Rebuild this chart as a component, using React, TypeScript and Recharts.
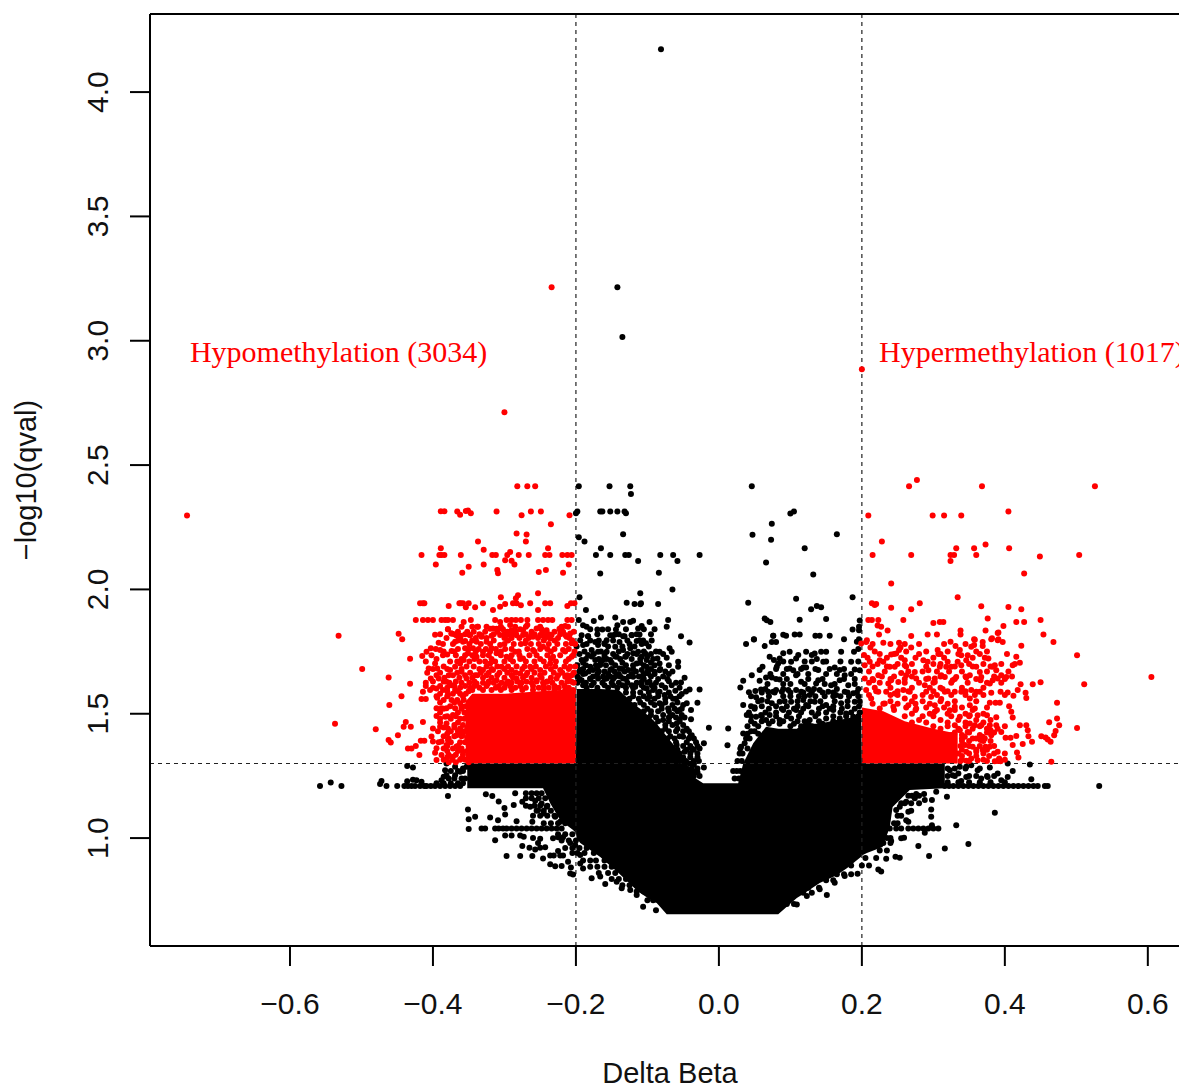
import { Area, ComposedChart, Label, ReferenceDot, ReferenceLine, Scatter, XAxis, YAxis } from 'recharts';

type Pair = [number, number];
type Row = [number, number[]];

const xTicks = [-0.6, -0.4, -0.2, 0, 0.2, 0.4, 0.6];
const yTicks = [1, 1.5, 2, 2.5, 3, 3.5, 4];
const xDomain = [-0.7958, 0.659];
const yDomain = [0.566, 4.314];
const deltaCutoff = 0.2;
const qvalCutoff = 1.3;

// solid parts of the cloud as [x, low, high]
const blackMass = [
	[-0.352, 1.2, 1.3], [-0.246, 1.2, 1.3], [-0.236, 1.14, 1.3], [-0.222, 1.072, 1.3], [-0.204, 1.032, 1.3], [-0.2, 1.02, 1.3],
	[-0.199, 1.0, 1.6], [-0.194, 0.98, 1.6], [-0.166, 0.924, 1.6], [-0.14, 0.859, 1.595], [-0.115, 0.79, 1.53], [-0.11, 0.779, 1.52],
	[-0.092, 0.745, 1.475], [-0.087, 0.739, 1.46], [-0.073, 0.694, 1.41], [-0.05, 0.694, 1.327], [-0.036, 0.694, 1.247], [-0.022, 0.694, 1.22],
	[0.027, 0.694, 1.22], [0.034, 0.694, 1.3], [0.048, 0.694, 1.381], [0.066, 0.694, 1.448], [0.083, 0.694, 1.44], [0.109, 0.759, 1.44],
	[0.118, 0.775, 1.46], [0.141, 0.819, 1.46], [0.164, 0.85, 1.475], [0.179, 0.879, 1.48], [0.199, 0.925, 1.5], [0.2, 0.93, 1.3],
	[0.207, 0.94, 1.3], [0.229, 0.964, 1.3], [0.239, 1.044, 1.3], [0.243, 1.125, 1.3], [0.267, 1.193, 1.3], [0.316, 1.2, 1.3],
];
const redMassLeft = [[-0.354, 1.3, 1.55], [-0.345, 1.3, 1.58], [-0.3, 1.3, 1.58], [-0.25, 1.3, 1.59], [-0.2, 1.3, 1.6]];
const redMassRight = [[0.2, 1.3, 1.525], [0.23, 1.3, 1.51], [0.26, 1.3, 1.47], [0.3, 1.3, 1.44], [0.334, 1.3, 1.42]];

// quantised q-value rows
const redRow242 = [-0.282, -0.268, -0.257, 0.266, 0.368, 0.526];
const redRow214 = [-0.416, -0.391, -0.388, -0.384, -0.361, -0.317, -0.312, -0.296, -0.28, -0.266, -0.243, -0.237, -0.219, -0.212, -0.206, 0.215, 0.269, 0.324, 0.329, 0.36, 0.504];
const redRow194 = [-0.418, -0.414, -0.412, -0.363, -0.361, -0.358, -0.35, -0.33, -0.288, -0.283, -0.264, -0.243, -0.236, -0.207, -0.202, 0.281];
const redRow188 = [-0.424, -0.414, -0.407, -0.4, -0.388, -0.383, -0.379, -0.372, -0.347, -0.313, -0.297, -0.29, -0.284, -0.277, -0.268, -0.253, -0.246, -0.239, -0.233, -0.212, -0.206, 0.209, 0.214, 0.223, 0.258, 0.45];
const blackRow242 = [-0.196, -0.153, -0.124, 0.046];
const blackRow214 = [-0.172, -0.152, -0.131, -0.126, -0.082, -0.064, -0.027];
const blackRow120 = [-0.558, -0.528, -0.465, -0.45, -0.44, -0.435, -0.43, -0.425, -0.418, -0.412, -0.409, -0.403, -0.397, -0.39, -0.383, -0.376, -0.369, -0.362, 0.316, 0.322, 0.328, 0.335, 0.342, 0.349, 0.356, 0.363, 0.37, 0.377, 0.384, 0.391, 0.398, 0.405, 0.412, 0.419, 0.426, 0.433, 0.44, 0.446, 0.456, 0.46, 0.532];
const blackRow104 = [-0.332, -0.327, -0.313, -0.308, -0.302, -0.297, -0.29, -0.283, -0.276, -0.269, -0.262, -0.255, -0.248, -0.241, -0.234, -0.227, -0.22, 0.239, 0.248, 0.255, 0.265, 0.272, 0.279, 0.286, 0.293, 0.3, 0.307];

// busy areas, estimated band by band
const redBandsLeft: Row[] = [
	[1.85, [-0.36, -0.345, -0.325, -0.305, -0.285, -0.27, -0.25, -0.22]],
	[1.83, [-0.365, -0.352, -0.343, -0.327, -0.31, -0.296, -0.284, -0.262, -0.247, -0.23, -0.218, -0.203]],
	[1.82, [-0.39, -0.37, -0.355, -0.335, -0.315, -0.3, -0.27, -0.258, -0.238, -0.222]],
	[1.805, [-0.381, -0.362, -0.34, -0.325, -0.3, -0.29, -0.279, -0.266, -0.253, -0.243, -0.225, -0.209]],
	[1.795, [-0.365, -0.345, -0.315, -0.295, -0.27, -0.245, -0.23, -0.205]],
	[1.78, [-0.386, -0.372, -0.349, -0.333, -0.32, -0.3, -0.287, -0.277, -0.263, -0.252, -0.238, -0.226, -0.214, -0.201]],
	[1.76, [-0.396, -0.365, -0.35, -0.336, -0.326, -0.312, -0.299, -0.29, -0.268, -0.25, -0.24, -0.23, -0.21]],
	[1.75, [-0.385, -0.37, -0.34, -0.32, -0.305, -0.28, -0.258, -0.235, -0.215, -0.202]],
	[1.735, [-0.402, -0.386, -0.368, -0.355, -0.345, -0.33, -0.322, -0.305, -0.29, -0.279, -0.265, -0.255, -0.24, -0.222, -0.204]],
	[1.72, [-0.395, -0.36, -0.342, -0.318, -0.292, -0.278, -0.25, -0.235, -0.21]],
	[1.71, [-0.41, -0.376, -0.366, -0.349, -0.335, -0.327, -0.313, -0.3, -0.288, -0.27, -0.258, -0.245, -0.228, -0.214]],
	[1.69, [-0.385, -0.353, -0.343, -0.325, -0.31, -0.295, -0.283, -0.272, -0.256, -0.242, -0.229, -0.216, -0.201]],
	[1.68, [-0.4, -0.38, -0.36, -0.335, -0.318, -0.3, -0.275, -0.262, -0.235, -0.21]],
	[1.665, [-0.408, -0.39, -0.366, -0.348, -0.333, -0.322, -0.307, -0.296, -0.284, -0.268, -0.258, -0.244, -0.231, -0.219, -0.203]],
	[1.655, [-0.395, -0.378, -0.355, -0.338, -0.325, -0.31, -0.29, -0.27, -0.25, -0.225, -0.212]],
	[1.645, [-0.384, -0.363, -0.345, -0.33, -0.318, -0.3, -0.288, -0.274, -0.262, -0.248, -0.235, -0.21]],
	[1.63, [-0.4, -0.385, -0.368, -0.342, -0.322, -0.295, -0.282, -0.255, -0.24, -0.212]],
	[1.625, [-0.41, -0.377, -0.36, -0.349, -0.33, -0.315, -0.304, -0.29, -0.276, -0.262, -0.246, -0.233, -0.22, -0.203]],
	[1.612, [-0.41, -0.39, -0.37, -0.355, -0.342, -0.325, -0.308, -0.292, -0.278, -0.26, -0.245, -0.23, -0.216]],
	[1.605, [-0.4, -0.38, -0.362, -0.348, -0.335, -0.312, -0.3, -0.285, -0.27, -0.252, -0.238, -0.224, -0.21]],
	[1.595, [-0.345, -0.33, -0.318, -0.305, -0.29, -0.275, -0.26, -0.245, -0.23, -0.215, -0.204]],
	[1.59, [-0.38, -0.365, -0.35]],
	[1.58, [-0.39, -0.372, -0.362, -0.354]],
	[1.57, [-0.395, -0.38, -0.358]],
	[1.555, [-0.385, -0.366, -0.357]],
	[1.545, [-0.39, -0.37, -0.35]],
	[1.53, [-0.376, -0.36, -0.354]],
	[1.52, [-0.385, -0.36]],
	[1.505, [-0.39, -0.365, -0.356]],
	[1.49, [-0.38, -0.368, -0.352]],
	[1.48, [-0.39, -0.375, -0.362, -0.356]],
	[1.465, [-0.39, -0.365, -0.35]],
	[1.455, [-0.37, -0.358]],
	[1.445, [-0.385, -0.37, -0.352]],
	[1.43, [-0.393, -0.375, -0.365, -0.356]],
	[1.42, [-0.38, -0.36]],
	[1.41, [-0.385, -0.37, -0.36]],
	[1.4, [-0.378, -0.352]],
	[1.385, [-0.392, -0.375, -0.362, -0.355]],
	[1.37, [-0.38, -0.365, -0.35]],
	[1.36, [-0.385, -0.372, -0.36]],
	[1.35, [-0.38, -0.365, -0.352]],
	[1.335, [-0.378, -0.368, -0.358]],
	[1.325, [-0.38, -0.35]],
	[1.315, [-0.385, -0.373, -0.362, -0.355]],
	[1.305, [-0.378, -0.368, -0.35]],
];
const redBandsRight: Row[] = [
	[1.78, [0.215, 0.24, 0.26, 0.28, 0.315, 0.345]],
	[1.75, [0.218, 0.262, 0.29, 0.32, 0.36, 0.375]],
	[1.74, [0.225, 0.245, 0.28, 0.31, 0.335, 0.365]],
	[1.725, [0.208, 0.235, 0.255, 0.275, 0.3, 0.315, 0.355, 0.372]],
	[1.7, [0.222, 0.25, 0.27, 0.3, 0.31, 0.35, 0.37, 0.395]],
	[1.69, [0.215, 0.235, 0.262, 0.29, 0.33, 0.355, 0.38]],
	[1.67, [0.21, 0.232, 0.265, 0.285, 0.305, 0.322, 0.34, 0.375, 0.405]],
	[1.65, [0.228, 0.245, 0.27, 0.31, 0.345, 0.385, 0.41]],
	[1.64, [0.215, 0.24, 0.26, 0.29, 0.33, 0.36, 0.4]],
	[1.625, [0.21, 0.225, 0.26, 0.28, 0.3, 0.325, 0.348, 0.375, 0.395]],
	[1.605, [0.218, 0.24, 0.27, 0.295, 0.31, 0.34, 0.37]],
	[1.59, [0.22, 0.25, 0.265, 0.3, 0.32, 0.345]],
	[1.575, [0.21, 0.24, 0.25, 0.285, 0.305, 0.325, 0.345, 0.37, 0.4]],
	[1.55, [0.24, 0.27, 0.285, 0.31, 0.33, 0.36]],
	[1.54, [0.215, 0.23, 0.25, 0.275, 0.295, 0.32]],
	[1.525, [0.262, 0.29, 0.315, 0.34, 0.375]],
	[1.515, [0.245, 0.275, 0.305, 0.33, 0.355]],
	[1.5, [0.27, 0.295, 0.32, 0.345, 0.37]],
	[1.49, [0.26, 0.285, 0.3, 0.325, 0.35]],
	[1.475, [0.28, 0.31, 0.335, 0.36, 0.38]],
	[1.465, [0.27, 0.29, 0.32, 0.345, 0.37]],
	[1.45, [0.3, 0.32, 0.345, 0.365]],
	[1.44, [0.31, 0.335, 0.355, 0.375]],
	[1.425, [0.33, 0.35, 0.375, 0.385]],
	[1.415, [0.325, 0.34, 0.365]],
	[1.4, [0.34, 0.36, 0.372]],
	[1.39, [0.34, 0.35, 0.37, 0.38]],
	[1.37, [0.338, 0.35, 0.365, 0.385]],
	[1.355, [0.34, 0.36, 0.375]],
	[1.34, [0.335, 0.35, 0.37, 0.385, 0.4]],
	[1.33, [0.34, 0.36, 0.378]],
	[1.315, [0.34, 0.37, 0.4]],
	[1.31, [0.338, 0.35, 0.375, 0.39]],
];
const blackBandsLeft: Row[] = [
	[1.84, [-0.18, -0.155, -0.13, -0.105, -0.09]],
	[1.82, [-0.17, -0.14, -0.115, -0.095]],
	[1.795, [-0.18, -0.168, -0.148, -0.128, -0.106, -0.094]],
	[1.78, [-0.185, -0.16, -0.125, -0.108]],
	[1.77, [-0.199, -0.155, -0.135, -0.118, -0.098]],
	[1.75, [-0.188, -0.165, -0.14, -0.105, -0.088]],
	[1.74, [-0.195, -0.175, -0.16, -0.148, -0.128, -0.115, -0.095, -0.078]],
	[1.73, [-0.178, -0.16, -0.145, -0.13, -0.1]],
	[1.72, [-0.186, -0.168, -0.157, -0.138, -0.122, -0.11, -0.092]],
	[1.705, [-0.19, -0.165, -0.15, -0.135, -0.11, -0.095]],
	[1.695, [-0.198, -0.186, -0.172, -0.158, -0.145, -0.13, -0.12, -0.105, -0.09, -0.07]],
	[1.68, [-0.19, -0.17, -0.15, -0.135, -0.12, -0.095, -0.082]],
	[1.67, [-0.195, -0.182, -0.168, -0.16, -0.146, -0.132, -0.116, -0.1, -0.075, -0.065]],
	[1.66, [-0.19, -0.17, -0.155, -0.14, -0.122, -0.105, -0.09, -0.07]],
	[1.65, [-0.198, -0.176, -0.162, -0.152, -0.138, -0.126, -0.112, -0.095, -0.078]],
	[1.64, [-0.195, -0.18, -0.16, -0.148, -0.13, -0.105, -0.085, -0.072]],
	[1.625, [-0.198, -0.186, -0.175, -0.163, -0.15, -0.14, -0.128, -0.115, -0.1, -0.088, -0.06]],
	[1.615, [-0.19, -0.178, -0.16, -0.148, -0.135, -0.122, -0.108, -0.094, -0.08, -0.066]],
	[1.605, [-0.185, -0.17, -0.155, -0.142, -0.13, -0.12, -0.105, -0.09, -0.075, -0.055]],
	[1.585, [-0.13, -0.12, -0.11, -0.098, -0.085, -0.07]],
	[1.57, [-0.12, -0.105, -0.085, -0.068, -0.055]],
	[1.56, [-0.125, -0.112, -0.1, -0.09, -0.075, -0.06]],
	[1.545, [-0.11, -0.095, -0.075, -0.058]],
	[1.535, [-0.118, -0.105, -0.09, -0.08, -0.065, -0.05]],
	[1.52, [-0.1, -0.08, -0.062, -0.052]],
	[1.51, [-0.105, -0.095, -0.085, -0.07, -0.058]],
	[1.495, [-0.095, -0.078, -0.065, -0.052]],
	[1.485, [-0.098, -0.088, -0.07, -0.06, -0.048]],
	[1.47, [-0.085, -0.07, -0.055]],
	[1.455, [-0.09, -0.075, -0.065, -0.05]],
	[1.44, [-0.075, -0.058, -0.045]],
	[1.43, [-0.08, -0.07, -0.06, -0.05, -0.042]],
	[1.41, [-0.068, -0.055, -0.04]],
	[1.4, [-0.072, -0.062, -0.042, -0.035]],
	[1.385, [-0.06, -0.045, -0.032]],
	[1.37, [-0.068, -0.05, -0.04, -0.03]],
	[1.355, [-0.058, -0.045, -0.035]],
	[1.34, [-0.062, -0.055, -0.04, -0.03]],
	[1.325, [-0.05, -0.04, -0.03]],
	[1.31, [-0.055, -0.046, -0.035, -0.028]],
	[1.295, [-0.048, -0.035]],
	[1.28, [-0.045, -0.038, -0.03]],
	[1.265, [-0.04, -0.03]],
	[1.25, [-0.035, -0.027]],
];
const blackBandsRight: Row[] = [
	[1.79, [0.193]],
	[1.76, [0.195]],
	[1.71, [0.09, 0.12, 0.13, 0.15, 0.17, 0.195]],
	[1.68, [0.08, 0.095, 0.115, 0.135, 0.155, 0.175]],
	[1.66, [0.072, 0.09, 0.11, 0.125, 0.15, 0.165, 0.185]],
	[1.64, [0.08, 0.095, 0.125, 0.145, 0.175, 0.19]],
	[1.62, [0.068, 0.09, 0.1, 0.12, 0.148, 0.162, 0.19]],
	[1.6, [0.065, 0.09, 0.125, 0.133, 0.165, 0.195]],
	[1.585, [0.06, 0.078, 0.1, 0.118, 0.13, 0.145, 0.16, 0.18, 0.193]],
	[1.57, [0.045, 0.07, 0.09, 0.1, 0.112, 0.12, 0.135, 0.148, 0.16, 0.17, 0.182, 0.195]],
	[1.55, [0.055, 0.068, 0.092, 0.11, 0.128, 0.142, 0.162, 0.18, 0.197]],
	[1.53, [0.045, 0.06, 0.08, 0.095, 0.11, 0.125, 0.145, 0.16, 0.18, 0.196]],
	[1.52, [0.05, 0.07, 0.088, 0.105, 0.118, 0.14, 0.155, 0.172, 0.19]],
	[1.505, [0.042, 0.065, 0.08, 0.098, 0.115, 0.13, 0.15, 0.17, 0.185, 0.197]],
	[1.49, [0.045, 0.06, 0.08, 0.095, 0.112, 0.135, 0.16, 0.178, 0.195]],
	[1.47, [0.045, 0.06, 0.075, 0.09, 0.11, 0.12, 0.14, 0.16, 0.18, 0.195]],
	[1.46, [0.05, 0.07, 0.085, 0.105, 0.125, 0.145, 0.165, 0.185]],
	[1.45, [0.04, 0.055, 0.1, 0.115, 0.13, 0.15, 0.172, 0.19]],
	[1.43, [0.045, 0.05]],
	[1.42, [0.04, 0.055]],
	[1.4, [0.038, 0.043]],
	[1.36, [0.03, 0.04]],
	[1.34, [0.029, 0.033]],
	[1.31, [0.026, 0.032]],
	[1.27, [0.02, 0.025, 0.03]],
	[1.24, [0.022, 0.028]],
];
const blackFringe: Row[] = [
	[1.28, [0.32, 0.33, 0.345, 0.365]],
	[1.27, [-0.375, -0.365, -0.358]],
	[1.25, [0.32, 0.33, 0.35, 0.36, 0.375, 0.385]],
	[1.24, [-0.378, -0.37, -0.36, -0.355]],
	[1.225, [0.32, 0.335, 0.35, 0.365, 0.38, 0.4]],
	[1.22, [-0.395, -0.385, -0.375, -0.365, -0.358]],
	[1.18, [-0.27, -0.262, -0.255, -0.248]],
	[1.17, [0.265, 0.27, 0.28]],
	[1.16, [-0.27, -0.262, -0.252, -0.243]],
	[1.14, [0.255, 0.26, 0.28]],
	[1.13, [-0.27, -0.258, -0.25, -0.24]],
	[1.11, [-0.255, -0.245, -0.235]],
	[1.09, [-0.26, -0.25, -0.24, -0.23, 0.25, 0.255]],
	[1.06, [-0.245, -0.235, -0.225, -0.215, 0.245, 0.25]],
	[1.015, [-0.225, -0.215, -0.205]],
	[1.0, [0.24, 0.235]],
	[0.99, [-0.22, -0.21, -0.2]],
	[0.98, [0.23, 0.24]],
	[0.96, [-0.215, -0.205, -0.195, -0.185]],
	[0.95, [0.225, 0.235]],
	[0.94, [-0.205, -0.198, -0.188, -0.175]],
	[0.92, [0.205, 0.22]],
	[0.91, [-0.19, -0.18, -0.172, -0.16]],
	[0.89, [0.185, 0.2, 0.21]],
	[0.885, [-0.18, -0.17, -0.16, -0.15]],
	[0.86, [-0.168, -0.155, -0.145]],
	[0.855, [0.165, 0.175, 0.185]],
	[0.835, [-0.15, -0.14, -0.13]],
	[0.83, [0.15, 0.16]],
	[0.81, [-0.135, -0.125, -0.115]],
	[0.8, [0.125, 0.14]],
	[0.785, [-0.115, -0.105]],
	[0.78, [0.118, 0.13]],
	[0.75, [-0.1, -0.092]],
	[0.735, [0.095, 0.105]],
];

const redPairsLeft: Pair[] = [
	[-0.744, 2.297], [-0.234, 3.215], [-0.3, 2.712],
	[-0.389, 2.314], [-0.384, 2.314], [-0.366, 2.313], [-0.362, 2.3], [-0.354, 2.315], [-0.351, 2.317], [-0.347, 2.306], [-0.311, 2.313], [-0.276, 2.298], [-0.263, 2.313], [-0.249, 2.313], [-0.209, 2.298], [-0.235, 2.262],
	[-0.283, 2.225], [-0.269, 2.221], [-0.27, 2.193], [-0.337, 2.193], [-0.389, 2.166], [-0.329, 2.16], [-0.239, 2.166], [-0.292, 2.15], [-0.299, 2.117], [-0.29, 2.115], [-0.286, 2.1], [-0.396, 2.1], [-0.21, 2.1], [-0.35, 2.091], [-0.329, 2.1], [-0.359, 2.067], [-0.31, 2.078], [-0.309, 2.065], [-0.252, 2.07], [-0.242, 2.078], [-0.218, 2.067],
	[-0.253, 1.985], [-0.281, 1.977], [-0.284, 1.964], [-0.305, 1.968], [-0.378, 1.933], [-0.354, 1.928], [-0.341, 1.928], [-0.316, 1.917], [-0.306, 1.93], [-0.299, 1.941], [-0.277, 1.936], [-0.253, 1.917], [-0.212, 1.933],
	[-0.357, 1.869], [-0.337, 1.85], [-0.379, 1.84], [-0.306, 1.869], [-0.292, 1.857], [-0.268, 1.857], [-0.248, 1.84], [-0.223, 1.842], [-0.215, 1.853], [-0.32, 1.842], [-0.311, 1.842], [-0.302, 1.84], [-0.278, 1.84],
	[-0.532, 1.814], [-0.448, 1.822], [-0.443, 1.8], [-0.397, 1.818], [-0.374, 1.823], [-0.368, 1.818], [-0.361, 1.814], [-0.349, 1.818], [-0.332, 1.814], [-0.318, 1.814], [-0.306, 1.817], [-0.297, 1.817], [-0.29, 1.817], [-0.285, 1.823], [-0.274, 1.817], [-0.262, 1.817], [-0.25, 1.817], [-0.241, 1.817], [-0.234, 1.817], [-0.215, 1.817], [-0.208, 1.823],
	[-0.499, 1.68], [-0.462, 1.646], [-0.432, 1.721], [-0.432, 1.621], [-0.444, 1.57], [-0.461, 1.535], [-0.537, 1.46], [-0.48, 1.438], [-0.438, 1.467], [-0.441, 1.448], [-0.431, 1.448], [-0.449, 1.414], [-0.462, 1.394], [-0.459, 1.384], [-0.414, 1.467], [-0.417, 1.391], [-0.412, 1.391], [-0.424, 1.37], [-0.435, 1.36], [-0.43, 1.36], [-0.419, 1.334],
	[-0.415, 1.732], [-0.409, 1.749], [-0.403, 1.763], [-0.392, 1.786], [-0.39, 1.756], [-0.38, 1.738], [-0.374, 1.752], [-0.379, 1.84], [-0.374, 1.823], [-0.367, 1.816], [-0.369, 1.79], [-0.355, 1.793], [-0.348, 1.816], [-0.338, 1.85], [-0.332, 1.81], [-0.316, 1.843], [-0.304, 1.843], [-0.29, 1.836], [-0.274, 1.836], [-0.255, 1.843], [-0.241, 1.836], [-0.222, 1.836], [-0.213, 1.81], [-0.206, 1.783], [-0.211, 1.85],
	[-0.406, 1.682], [-0.397, 1.702], [-0.394, 1.682], [-0.403, 1.642], [-0.392, 1.642], [-0.381, 1.629], [-0.374, 1.615], [-0.369, 1.595], [-0.414, 1.588], [-0.404, 1.595], [-0.395, 1.602], [-0.386, 1.595], [-0.379, 1.575], [-0.374, 1.555], [-0.416, 1.559], [-0.41, 1.559], [-0.394, 1.564], [-0.395, 1.522], [-0.388, 1.522], [-0.381, 1.522], [-0.395, 1.491], [-0.383, 1.488], [-0.381, 1.461], [-0.369, 1.522], [-0.372, 1.495], [-0.362, 1.542], [-0.379, 1.441], [-0.39, 1.448], [-0.4, 1.441], [-0.402, 1.408], [-0.4, 1.388], [-0.388, 1.388], [-0.379, 1.394], [-0.381, 1.374], [-0.395, 1.361], [-0.397, 1.343], [-0.388, 1.334], [-0.395, 1.314], [-0.367, 1.414], [-0.362, 1.441], [-0.358, 1.414], [-0.367, 1.368], [-0.358, 1.347], [-0.36, 1.32], [-0.372, 1.327],
	[-0.376, 1.676], [-0.369, 1.689], [-0.372, 1.655], [-0.362, 1.702], [-0.357, 1.716], [-0.351, 1.743], [-0.344, 1.763], [-0.339, 1.729], [-0.36, 1.669], [-0.353, 1.642], [-0.341, 1.655], [-0.33, 1.676], [-0.32, 1.702], [-0.33, 1.749], [-0.318, 1.763], [-0.306, 1.776], [-0.295, 1.796], [-0.283, 1.816], [-0.271, 1.783], [-0.26, 1.81], [-0.248, 1.816], [-0.236, 1.803], [-0.358, 1.79], [-0.355, 1.763], [-0.339, 1.79], [-0.325, 1.79], [-0.311, 1.743], [-0.297, 1.729], [-0.285, 1.749], [-0.274, 1.722], [-0.26, 1.756], [-0.246, 1.769], [-0.232, 1.729], [-0.218, 1.756], [-0.206, 1.729],
	[-0.316, 1.676], [-0.304, 1.689], [-0.29, 1.676], [-0.278, 1.662], [-0.264, 1.689], [-0.25, 1.676], [-0.236, 1.702], [-0.222, 1.676], [-0.208, 1.689], [-0.339, 1.622], [-0.323, 1.622], [-0.311, 1.635], [-0.297, 1.622], [-0.283, 1.642], [-0.269, 1.629], [-0.255, 1.635], [-0.241, 1.629], [-0.227, 1.642], [-0.215, 1.649], [-0.206, 1.655], [-0.206, 1.629],
];

const redPairsRight: Pair[] = [
	[0.2, 2.885], [0.277, 2.44], [0.209, 2.297], [0.299, 2.297], [0.315, 2.297], [0.339, 2.297], [0.405, 2.313], [0.228, 2.193], [0.332, 2.166], [0.357, 2.166], [0.373, 2.181], [0.406, 2.166], [0.449, 2.132], [0.324, 2.114], [0.427, 2.064], [0.241, 2.024], [0.334, 1.968],
	[0.214, 1.944], [0.218, 1.937], [0.22, 1.941], [0.241, 1.926], [0.269, 1.92], [0.367, 1.932], [0.405, 1.929], [0.423, 1.92], [0.3, 1.865], [0.309, 1.869], [0.314, 1.869], [0.376, 1.883], [0.398, 1.853], [0.416, 1.869], [0.427, 1.869], [0.222, 1.855], [0.227, 1.85], [0.236, 1.835], [0.224, 1.819], [0.269, 1.813], [0.292, 1.819], [0.305, 1.819], [0.338, 1.835], [0.338, 1.819], [0.373, 1.835], [0.391, 1.827], [0.454, 1.819], [0.382, 1.804], [0.391, 1.8], [0.357, 1.8], [0.324, 1.79], [0.207, 1.796],
	[0.605, 1.648], [0.501, 1.735], [0.511, 1.619], [0.45, 1.627], [0.439, 1.619], [0.473, 1.544], [0.473, 1.481], [0.462, 1.466], [0.476, 1.454], [0.501, 1.443], [0.471, 1.431], [0.469, 1.414], [0.451, 1.41], [0.457, 1.404], [0.46, 1.396], [0.464, 1.387], [0.468, 1.789], [0.423, 1.773], [0.416, 1.729], [0.403, 1.74], [0.421, 1.705], [0.411, 1.695], [0.414, 1.7], [0.422, 1.619], [0.418, 1.595], [0.412, 1.572], [0.429, 1.584], [0.43, 1.563], [0.404, 1.585], [0.394, 1.588], [0.381, 1.584], [0.379, 1.544], [0.387, 1.544], [0.393, 1.544], [0.406, 1.53], [0.409, 1.508], [0.411, 1.485], [0.388, 1.486], [0.375, 1.494],
	[0.421, 1.454], [0.43, 1.454], [0.432, 1.434], [0.433, 1.41], [0.438, 1.387], [0.416, 1.411], [0.401, 1.403], [0.408, 1.403], [0.411, 1.374], [0.425, 1.378], [0.417, 1.344], [0.419, 1.324], [0.39, 1.347], [0.392, 1.32], [0.386, 1.309], [0.394, 1.309], [0.465, 1.307], [0.379, 1.454], [0.38, 1.434], [0.381, 1.414], [0.388, 1.454], [0.39, 1.44], [0.395, 1.427], [0.4, 1.45], [0.373, 1.367], [0.379, 1.367], [0.369, 1.354], [0.369, 1.407], [0.366, 1.394],
	[0.383, 1.689], [0.388, 1.675], [0.386, 1.695], [0.377, 1.722], [0.395, 1.655], [0.402, 1.648], [0.39, 1.642], [0.383, 1.635], [0.379, 1.622], [0.36, 1.689], [0.365, 1.668], [0.367, 1.648], [0.366, 1.635], [0.351, 1.655], [0.346, 1.646], [0.358, 1.798], [0.353, 1.769], [0.357, 1.776], [0.369, 1.789], [0.369, 1.772], [0.381, 1.8], [0.39, 1.825], [0.39, 1.796], [0.397, 1.789],
	[0.206, 1.789], [0.199, 1.782], [0.212, 1.766], [0.23, 1.786], [0.252, 1.786], [0.254, 1.766], [0.269, 1.766], [0.248, 1.742], [0.241, 1.738], [0.252, 1.756], [0.203, 1.736], [0.211, 1.709], [0.204, 1.695], [0.225, 1.715], [0.23, 1.709], [0.239, 1.689], [0.246, 1.689], [0.26, 1.715], [0.26, 1.695], [0.286, 1.715], [0.292, 1.709], [0.306, 1.756], [0.307, 1.74], [0.331, 1.772], [0.337, 1.756], [0.339, 1.735], [0.348, 1.735], [0.346, 1.715], [0.334, 1.709], [0.339, 1.695], [0.32, 1.709], [0.318, 1.689], [0.325, 1.689], [0.309, 1.689],
	[0.255, 1.664], [0.262, 1.655], [0.274, 1.668], [0.276, 1.642], [0.293, 1.675], [0.293, 1.642], [0.302, 1.642], [0.302, 1.628], [0.311, 1.655], [0.316, 1.648], [0.327, 1.635], [0.332, 1.648], [0.223, 1.655], [0.216, 1.635], [0.204, 1.642], [0.241, 1.635], [0.237, 1.622], [0.251, 1.628], [0.288, 1.615], [0.313, 1.6], [0.316, 1.588], [0.33, 1.588], [0.339, 1.588], [0.353, 1.595], [0.36, 1.588], [0.365, 1.588], [0.351, 1.561], [0.358, 1.575],
	[0.206, 1.595], [0.223, 1.588], [0.234, 1.588], [0.246, 1.581], [0.258, 1.595], [0.267, 1.588], [0.29, 1.588], [0.213, 1.561], [0.232, 1.541], [0.26, 1.561], [0.274, 1.568], [0.297, 1.568], [0.311, 1.559], [0.265, 1.534], [0.225, 1.521], [0.244, 1.528], [0.276, 1.521], [0.302, 1.534], [0.33, 1.528], [0.351, 1.534], [0.358, 1.521], [0.302, 1.508], [0.323, 1.514], [0.337, 1.488], [0.351, 1.494], [0.362, 1.494],
	[0.351, 1.461], [0.358, 1.454], [0.367, 1.454], [0.33, 1.454], [0.337, 1.434], [0.348, 1.427], [0.344, 1.407], [0.355, 1.4], [0.344, 1.374], [0.355, 1.367], [0.346, 1.347], [0.36, 1.347], [0.353, 1.32], [0.346, 1.311], [0.362, 1.313],
];

const blackPairsTop: Pair[] = [
	[-0.081, 4.172], [-0.142, 3.215], [-0.135, 3.015],
	[-0.123, 2.384], [-0.166, 2.313], [-0.163, 2.313], [-0.152, 2.313], [-0.142, 2.313], [-0.132, 2.313], [-0.13, 2.306], [-0.2, 2.306], [-0.198, 2.313], [0.105, 2.313], [0.1, 2.305], [0.074, 2.264], [-0.134, 2.222], [0.047, 2.22], [0.073, 2.2], [0.165, 2.222], [-0.196, 2.21], [-0.188, 2.193], [-0.165, 2.166], [0.12, 2.166],
	[-0.113, 2.114], [-0.058, 2.114], [0.066, 2.108], [-0.166, 2.064], [-0.084, 2.067], [0.132, 2.06], [-0.065, 2.0], [-0.11, 1.985], [-0.195, 1.968], [0.108, 1.962], [0.187, 1.968],
	[-0.129, 1.946], [-0.118, 1.941], [-0.109, 1.944], [-0.11, 1.94], [-0.085, 1.941], [0.041, 1.946], [0.129, 1.92], [0.137, 1.933], [0.143, 1.928], [-0.186, 1.917], [-0.165, 1.887], [-0.145, 1.887], [0.064, 1.883], [0.067, 1.876], [0.072, 1.869], [0.113, 1.878], [0.15, 1.881], [0.197, 1.875], [-0.071, 1.877], [-0.097, 1.869], [-0.12, 1.874], [-0.124, 1.869], [-0.134, 1.869], [-0.175, 1.873], [-0.196, 1.877], [-0.19, 1.856], [-0.185, 1.85], [-0.142, 1.856], [-0.144, 1.839], [-0.108, 1.853], [-0.113, 1.843], [-0.073, 1.85], [0.187, 1.839], [0.196, 1.85], [0.196, 1.836], [-0.17, 1.839], [-0.163, 1.839],
	[-0.192, 1.816], [-0.183, 1.812], [-0.152, 1.816], [-0.145, 1.819], [-0.134, 1.812], [-0.122, 1.817], [-0.111, 1.819], [-0.053, 1.812], [0.049, 1.8], [0.076, 1.814], [0.09, 1.818], [0.094, 1.814], [0.106, 1.819], [0.113, 1.819], [0.135, 1.814], [0.141, 1.814], [0.155, 1.814], [0.175, 1.8], [0.196, 1.8],
];

const blackPairsMid: Pair[] = [
	[-0.041, 1.787], [-0.069, 1.763], [-0.066, 1.749], [-0.083, 1.749], [-0.086, 1.722], [-0.083, 1.702], [-0.073, 1.725], [-0.057, 1.709], [-0.057, 1.689], [-0.048, 1.645], [-0.053, 1.626], [-0.07, 1.631], [-0.027, 1.598], [-0.041, 1.598], [-0.046, 1.589], [-0.052, 1.579], [-0.061, 1.592], [-0.064, 1.56], [-0.045, 1.542], [-0.03, 1.544], [-0.039, 1.515], [-0.055, 1.515], [-0.039, 1.478], [-0.055, 1.477], [-0.014, 1.444], [0.013, 1.441], [0.012, 1.373], [-0.021, 1.381], [-0.021, 1.284], [-0.038, 1.414], [-0.027, 1.36],
	[-0.097, 1.629], [-0.106, 1.655], [-0.099, 1.662], [-0.09, 1.669], [-0.083, 1.675], [-0.101, 1.689], [-0.101, 1.716], [-0.108, 1.729], [-0.113, 1.749], [-0.103, 1.742], [-0.111, 1.796], [-0.102, 1.783], [-0.115, 1.793], [-0.122, 1.816], [-0.132, 1.812], [-0.139, 1.789], [-0.148, 1.816], [-0.157, 1.796], [-0.16, 1.783], [-0.173, 1.789], [-0.169, 1.776], [-0.183, 1.812], [-0.194, 1.796], [-0.19, 1.776],
	[-0.178, 1.756], [-0.183, 1.736], [-0.169, 1.749], [-0.157, 1.749], [-0.145, 1.769], [-0.134, 1.756], [-0.124, 1.763], [-0.12, 1.743], [-0.131, 1.729], [-0.143, 1.729], [-0.152, 1.716], [-0.162, 1.716], [-0.173, 1.716], [-0.18, 1.689], [-0.192, 1.716], [-0.194, 1.676], [-0.187, 1.662], [-0.176, 1.676], [-0.166, 1.696], [-0.152, 1.676], [-0.139, 1.682], [-0.127, 1.676], [-0.115, 1.702], [-0.108, 1.676], [-0.12, 1.649], [-0.134, 1.642], [-0.145, 1.649], [-0.157, 1.642], [-0.169, 1.642], [-0.18, 1.642], [-0.192, 1.635], [-0.108, 1.629], [-0.117, 1.609],
	[-0.101, 1.602], [-0.092, 1.595], [-0.083, 1.588], [-0.076, 1.575], [-0.097, 1.568], [-0.083, 1.542], [-0.071, 1.521], [-0.069, 1.488], [-0.059, 1.461], [-0.078, 1.475], [-0.05, 1.407], [-0.059, 1.374], [-0.048, 1.347], [-0.038, 1.36], [-0.041, 1.3], [-0.034, 1.267],
	[0.038, 1.78], [0.049, 1.799], [0.064, 1.772], [0.074, 1.789], [0.08, 1.789], [0.076, 1.814], [0.034, 1.633], [0.03, 1.606], [0.046, 1.655], [0.057, 1.676], [0.061, 1.689], [0.057, 1.633], [0.066, 1.646], [0.074, 1.646], [0.042, 1.586], [0.051, 1.591], [0.059, 1.598], [0.052, 1.566], [0.06, 1.555], [0.069, 1.588], [0.076, 1.588],
	[0.071, 1.729], [0.077, 1.716], [0.083, 1.702], [0.09, 1.743], [0.085, 1.722], [0.081, 1.689], [0.099, 1.749], [0.111, 1.736], [0.108, 1.722], [0.122, 1.749], [0.13, 1.736], [0.134, 1.742], [0.143, 1.749], [0.15, 1.749], [0.171, 1.749], [0.189, 1.749], [0.137, 1.72], [0.146, 1.709], [0.185, 1.709], [0.118, 1.686], [0.122, 1.686], [0.101, 1.709], [0.099, 1.682], [0.104, 1.675], [0.139, 1.676], [0.162, 1.686], [0.169, 1.676], [0.19, 1.678], [0.197, 1.675],
	[0.085, 1.638], [0.108, 1.655], [0.115, 1.629], [0.139, 1.635], [0.136, 1.622], [0.157, 1.615], [0.169, 1.635], [0.176, 1.655], [0.181, 1.615], [0.08, 1.595], [0.088, 1.588], [0.097, 1.595], [0.108, 1.595], [0.115, 1.588], [0.127, 1.575], [0.141, 1.595], [0.153, 1.588], [0.164, 1.575], [0.176, 1.588], [0.188, 1.582],
	[0.074, 1.542], [0.085, 1.548], [0.101, 1.548], [0.118, 1.555], [0.134, 1.548], [0.15, 1.535], [0.171, 1.542], [0.19, 1.548], [0.09, 1.515], [0.108, 1.515], [0.122, 1.535], [0.139, 1.501], [0.16, 1.515], [0.178, 1.501], [0.071, 1.495], [0.052, 1.488], [0.059, 1.495], [0.034, 1.535], [0.039, 1.495], [0.05, 1.526], [0.066, 1.475], [0.085, 1.475], [0.101, 1.481], [0.127, 1.475], [0.15, 1.481], [0.169, 1.481], [0.188, 1.488], [0.034, 1.421], [0.031, 1.367], [0.036, 1.381],
];

const blackPairsLow: Pair[] = [
	[-0.543, 1.224], [-0.474, 1.217], [-0.472, 1.23], [-0.436, 1.229], [-0.428, 1.235], [-0.423, 1.233], [-0.416, 1.227], [-0.436, 1.29], [-0.428, 1.284], [-0.381, 1.3], [-0.383, 1.273], [-0.381, 1.253], [-0.388, 1.233], [-0.385, 1.247], [-0.369, 1.287], [-0.353, 1.287], [-0.369, 1.253], [-0.362, 1.267], [-0.358, 1.28],
	[-0.379, 1.169], [-0.326, 1.176], [-0.317, 1.169], [-0.308, 1.147], [-0.285, 1.18], [-0.287, 1.133], [-0.275, 1.146], [-0.3, 1.121], [-0.299, 1.095], [-0.351, 1.115], [-0.341, 1.086], [-0.35, 1.076], [-0.32, 1.083], [-0.309, 1.072], [-0.283, 1.068], [-0.261, 1.066], [-0.35, 1.037],
	[-0.313, 0.991], [-0.299, 1.01], [-0.29, 1.01], [-0.278, 1.01], [-0.273, 1.005], [-0.26, 1.0], [-0.25, 0.997], [-0.253, 0.98], [-0.275, 0.968], [-0.265, 0.961], [-0.257, 0.954], [-0.25, 0.961], [-0.243, 0.963], [-0.225, 0.948], [-0.297, 0.928], [-0.278, 0.928], [-0.261, 0.928], [-0.246, 0.918], [-0.236, 0.93], [-0.231, 0.93], [-0.222, 0.93], [-0.218, 0.93], [-0.236, 0.895], [-0.229, 0.887], [-0.22, 0.888], [-0.211, 0.905], [-0.207, 0.882], [-0.208, 0.858], [-0.204, 0.854],
	[-0.232, 0.999], [-0.225, 1.003], [-0.218, 1.003], [-0.208, 0.98], [-0.201, 0.972], [-0.194, 0.932], [-0.194, 0.898], [-0.19, 0.878], [-0.178, 0.838], [-0.166, 0.845], [-0.159, 0.815], [-0.143, 0.824], [-0.136, 0.798], [-0.124, 0.791], [-0.106, 0.724], [-0.088, 0.71], [-0.115, 0.771],
	[-0.248, 1.139], [-0.245, 1.099], [-0.241, 1.126], [-0.257, 1.15], [-0.264, 1.126], [-0.253, 1.112], [-0.229, 1.086], [-0.222, 1.066],
	[0.151, 0.771], [0.141, 0.794], [0.123, 0.767], [0.109, 0.733], [0.176, 0.847], [0.162, 0.82], [0.194, 0.857], [0.223, 0.874], [0.227, 0.866], [0.234, 0.917], [0.247, 0.925], [0.253, 0.921], [0.241, 0.988], [0.255, 0.999], [0.259, 1.001], [0.279, 0.968], [0.294, 0.928], [0.316, 0.958], [0.349, 0.976], [0.332, 1.052], [0.386, 1.102], [0.319, 1.166], [0.298, 1.153], [0.304, 1.186], [0.287, 1.177], [0.276, 1.177], [0.274, 1.16], [0.288, 1.153], [0.262, 1.146], [0.269, 1.14], [0.253, 1.126], [0.248, 1.113], [0.269, 1.11], [0.265, 1.106], [0.297, 1.115], [0.297, 1.086], [0.262, 1.072], [0.265, 1.066], [0.298, 1.052], [0.288, 1.021],
	[0.435, 1.296], [0.437, 1.237], [0.404, 1.3], [0.411, 1.27], [0.404, 1.246], [0.39, 1.26], [0.395, 1.233], [0.379, 1.284], [0.367, 1.24], [0.376, 1.246], [0.362, 1.273], [0.353, 1.293], [0.346, 1.287], [0.337, 1.287], [0.335, 1.26], [0.346, 1.246], [0.323, 1.273], [0.327, 1.253], [0.339, 1.23],
];

const withY = (y: number, xs: number[]) => xs.map((x) => ({ x, y }));
const fromRows = (rows: Row[]) => rows.flatMap(([y, xs]) => withY(y, xs));
const fromPairs = (pairs: Pair[]) => pairs.map(([x, y]) => ({ x, y }));
const bandRows = (rows: number[][]) => rows.map(([x, low, high]) => ({ x, band: [low, high] }));

const blackPoints = [
	...withY(2.415, blackRow242),
	...withY(2.138, blackRow214),
	...withY(1.209, blackRow120),
	...withY(1.039, blackRow104),
	...fromRows(blackBandsLeft),
	...fromRows(blackBandsRight),
	...fromRows(blackFringe),
	...fromPairs(blackPairsTop),
	...fromPairs(blackPairsMid),
	...fromPairs(blackPairsLow),
];
const redPoints = [
	...withY(2.415, redRow242),
	...withY(2.138, redRow214),
	...withY(1.944, redRow194),
	...withY(1.877, redRow188),
	...fromRows(redBandsLeft),
	...fromRows(redBandsRight),
	...fromPairs(redPairsLeft),
	...fromPairs(redPairsRight),
];

const Dot = ({ cx, cy, fill }: any) => <circle cx={cx} cy={cy} r={3} fill={fill} />;

const XTick = ({ x, y, payload }: any) => (
	<text x={x} y={y + 46} textAnchor='middle' fontSize={30} fontFamily='Liberation Sans' fill='#111'>
		{payload.value === 0 ? '0.0' : payload.value.toFixed(1).replace('-', '\u2212')}
	</text>
);

const YTick = ({ x, y, payload }: any) => (
	<text x={x - 20} y={y} textAnchor='middle' fontSize={30} fontFamily='Liberation Sans' fill='#111' transform={`rotate(-90 ${x - 20} ${y})`}>
		{payload.value.toFixed(1)}
	</text>
);

export default function App() {
	return (
		<div style={{ position: 'absolute', left: 0, top: 0, width: 1179, height: 1087, overflow: 'hidden', background: '#fff' }}>
			<ComposedChart width={1300} height={1087} margin={{ top: 14, right: 110, bottom: 0, left: 0 }}>
				<XAxis
					dataKey='x'
					type='number'
					domain={xDomain}
					ticks={xTicks}
					allowDataOverflow
					height={141}
					tickSize={20}
					tick={<XTick />}
					stroke='#000'
					strokeWidth={2}
				>
					<Label value='Delta Beta' position='insideBottom' offset={0} dy={-4} fontSize={29} fontFamily='Liberation Sans' fill='#111' />
				</XAxis>
				<YAxis
					type='number'
					domain={yDomain}
					ticks={yTicks}
					allowDataOverflow
					width={150}
					tickSize={20}
					tick={<YTick />}
					stroke='#000'
					strokeWidth={2}
				>
					<Label value='−log10(qval)' angle={-90} position='insideLeft' offset={26} fontSize={29} fontFamily='Liberation Sans' fill='#111' style={{ textAnchor: 'middle' }} />
				</YAxis>
				<Area data={bandRows(blackMass)} dataKey='band' stroke='none' fill='#000' fillOpacity={1} dot={false} activeDot={false} isAnimationActive={false} />
				<Scatter data={blackPoints} dataKey='y' fill='#000' shape={<Dot />} isAnimationActive={false} />
				<Area data={bandRows(redMassLeft)} dataKey='band' stroke='none' fill='#ff0000' fillOpacity={1} dot={false} activeDot={false} isAnimationActive={false} />
				<Area data={bandRows(redMassRight)} dataKey='band' stroke='none' fill='#ff0000' fillOpacity={1} dot={false} activeDot={false} isAnimationActive={false} />
				<Scatter data={redPoints} dataKey='y' fill='#ff0000' shape={<Dot />} isAnimationActive={false} />
				<ReferenceLine x={-deltaCutoff} stroke='#222' strokeDasharray='4 4' strokeWidth={1.2} />
				<ReferenceLine x={deltaCutoff} stroke='#222' strokeDasharray='4 4' strokeWidth={1.2} />
				<ReferenceLine y={qvalCutoff} stroke='#222' strokeDasharray='4 4' strokeWidth={1.2} />
				<ReferenceLine y={yDomain[1]} stroke='#000' strokeWidth={2} />
				<ReferenceDot x={-0.747} y={2.958} r={0} fill='none' stroke='none' label={{ value: 'Hypomethylation (3034)', position: 'right', fill: '#ff0000', fontSize: 30, fontFamily: 'Liberation Serif' }} />
				<ReferenceDot x={0.217} y={2.958} r={0} fill='none' stroke='none' label={{ value: 'Hypermethylation (1017)', position: 'right', fill: '#ff0000', fontSize: 30, fontFamily: 'Liberation Serif' }} />
			</ComposedChart>
		</div>
	);
}
